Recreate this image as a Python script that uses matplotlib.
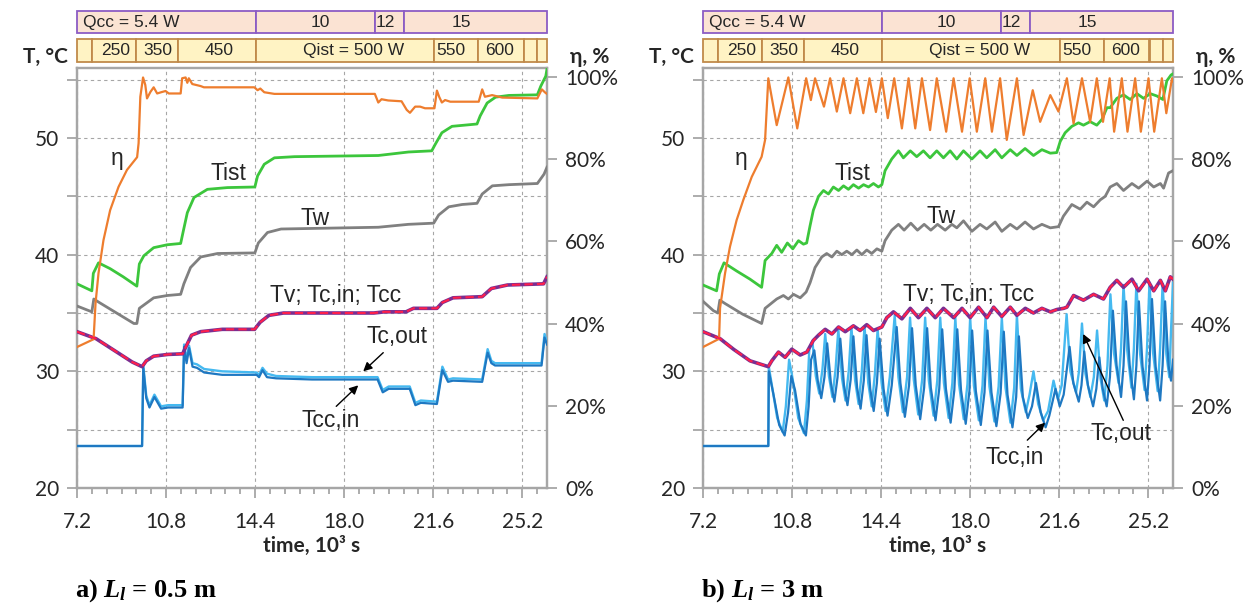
import numpy as np
import matplotlib
matplotlib.use("Agg")
import matplotlib.pyplot as plt
from matplotlib.patches import Rectangle

plt.rcParams["font.family"] = ["Lato", "DejaVu Sans"]
plt.rcParams["mathtext.fontset"] = "custom"
plt.rcParams["mathtext.it"] = "Liberation Serif:italic:bold"
plt.rcParams["mathtext.rm"] = "Liberation Serif:bold"

T0, T1 = 7.2, 26.2
time_ticks = [7.2, 10.8, 14.4, 18.0, 21.6, 25.2]

# heater / cooler power bands
qcc_edges = [7.2, 14.45, 19.25, 20.4, 26.2]
qcc_labels = ["Qcc = 5.4 W", "10", "12", "15"]
qcc_label_t = [9.4, 17.05, 19.68, 22.75]
qist_edges = [7.2, 7.8, 9.6, 11.3, 14.45, 21.65, 23.4, 25.25, 25.8, 26.2]
qist_labels = ["250", "350", "450", "Qist = 500 W", "550", "600"]
qist_label_t = [8.75, 10.46, 12.94, 18.37, 22.3, 24.27]

# ---- a) L_l = 0.5 m ----
eta_a = [(7.2, 34.3), (7.87, 36.2), (7.95, 45.0), (8.07, 52.3), (8.27, 60.3), (8.54, 67.6),
         (8.88, 73.3), (9.22, 77.4), (9.63, 80.5), (9.69, 83.9), (9.76, 95.2), (9.87, 99.9),
         (9.96, 98.1), (10.03, 94.8), (10.17, 96.4), (10.3, 97.5), (10.44, 96.0), (10.6, 96.3),
         (10.78, 96.6), (10.91, 96.0), (11.39, 96.0), (11.45, 99.7), (11.59, 99.9), (11.66, 98.6),
         (11.72, 99.7), (11.86, 98.3), (12.2, 97.8), (12.33, 97.5), (14.37, 97.5), (14.5, 96.8),
         (14.61, 97.2), (14.77, 96.3), (15.18, 95.9), (19.24, 95.9), (19.38, 93.8), (19.51, 94.6),
         (19.78, 94.3), (20.32, 94.1), (20.53, 92.0), (20.66, 91.3), (20.87, 92.8), (21.07, 92.8),
         (21.27, 92.4), (21.65, 92.4), (21.75, 96.7), (21.84, 95.2), (21.95, 93.8), (22.08, 94.4),
         (22.29, 94.0), (23.44, 94.0), (23.58, 97.0), (23.69, 95.2), (23.98, 95.6), (24.39, 95.0),
         (25.81, 94.8), (25.99, 97.0), (26.13, 96.2), (26.2, 95.9)]
tist_a = [(7.2, 37.5), (7.8, 36.9), (7.86, 38.4), (8.07, 39.3), (8.54, 38.8), (9.07, 38.1),
          (9.62, 37.3), (9.72, 39.2), (9.9, 39.9), (10.3, 40.6), (10.85, 40.85), (11.39, 40.96),
          (11.5, 42.05), (11.66, 43.6), (11.93, 44.9), (12.47, 45.6), (13.28, 45.75), (14.39, 45.8),
          (14.5, 46.75), (14.77, 47.75), (15.18, 48.3), (15.99, 48.4), (19.38, 48.5), (20.6, 48.8),
          (21.54, 48.9), (21.68, 49.45), (21.95, 50.45), (22.36, 51.0), (23.37, 51.2), (23.5, 51.9),
          (23.78, 53.0), (24.12, 53.5), (24.66, 53.65), (25.81, 53.7), (25.95, 54.45), (26.15, 55.3),
          (26.2, 55.9)]
tw_a = [(7.2, 35.6), (7.8, 35.1), (7.88, 36.2), (8.1, 35.9), (8.8, 35.0), (9.5, 34.1), (9.62, 34.1),
        (9.72, 35.4), (10.3, 36.3), (10.85, 36.5), (11.39, 36.6), (11.52, 37.5), (11.79, 38.9),
        (12.2, 39.8), (12.88, 40.1), (14.39, 40.15), (14.53, 41.0), (14.9, 41.9), (15.45, 42.2),
        (19.38, 42.35), (20.6, 42.6), (21.62, 42.7), (21.82, 43.4), (22.23, 44.1), (22.77, 44.3),
        (23.37, 44.4), (23.58, 45.2), (23.99, 45.9), (24.66, 46.0), (25.81, 46.1), (26.08, 46.9),
        (26.2, 47.5)]
tv_a = [(7.2, 33.4), (7.97, 32.8), (8.7, 31.8), (9.43, 30.8), (9.83, 30.4), (10.0, 30.9), (10.3, 31.3),
        (10.88, 31.45), (11.47, 31.5), (11.6, 32.1), (11.83, 33.1), (12.2, 33.4), (13.07, 33.6),
        (14.38, 33.6), (14.6, 34.2), (14.96, 34.8), (15.55, 35.0), (19.2, 35.0), (19.63, 35.1),
        (20.5, 35.1), (20.8, 35.4), (21.75, 35.4), (21.97, 35.9), (22.4, 36.3), (23.58, 36.4),
        (23.95, 37.1), (24.6, 37.4), (26.06, 37.5), (26.2, 38.1)]
tcc_in_a = [(7.2, 23.6), (9.83, 23.6), (9.88, 30.3), (10.0, 27.7), (10.13, 26.9), (10.33, 27.8),
            (10.6, 26.8), (10.88, 26.9), (11.47, 26.9), (11.53, 32.1), (11.63, 30.7), (11.73, 32.0),
            (11.87, 30.4), (12.05, 30.3), (12.34, 29.9), (13.07, 29.7), (14.46, 29.7), (14.56, 29.5),
            (14.7, 30.1), (14.88, 29.5), (15.25, 29.4), (16.7, 29.3), (19.35, 29.3), (19.56, 28.2),
            (19.8, 28.5), (20.65, 28.5), (20.88, 27.1), (21.1, 27.3), (21.75, 27.2), (21.97, 30.1),
            (22.2, 29.1), (22.4, 29.2), (23.58, 29.1), (23.8, 31.6), (23.95, 30.7), (24.1, 30.5),
            (25.98, 30.5), (26.1, 32.9), (26.2, 32.3)]
tc_out_a = [(7.2, 23.6), (9.83, 23.6), (9.88, 30.5), (10.0, 27.9), (10.13, 27.1), (10.33, 28.0),
            (10.6, 27.0), (10.88, 27.1), (11.47, 27.1), (11.53, 32.3), (11.63, 31.0), (11.73, 32.2),
            (11.87, 30.7), (12.05, 30.6), (12.34, 30.2), (13.07, 30.0), (14.46, 29.9), (14.56, 29.7),
            (14.7, 30.3), (14.88, 29.8), (15.25, 29.6), (16.7, 29.5), (19.35, 29.5), (19.56, 28.4),
            (19.8, 28.7), (20.65, 28.7), (20.88, 27.3), (21.1, 27.5), (21.75, 27.4), (21.97, 30.4),
            (22.2, 29.3), (22.4, 29.4), (23.58, 29.3), (23.8, 31.9), (23.95, 30.9), (24.1, 30.7),
            (25.98, 30.7), (26.1, 33.2), (26.2, 32.5)]

# ---- b) L_l = 3 m ----
eta_b = [(7.2, 34.3), (7.85, 36.3), (7.89, 43.8), (8.09, 52.2), (8.29, 58.7), (8.56, 65.2),
         (8.83, 70.1), (9.17, 75.7), (9.57, 80.6), (9.71, 84.7), (9.84, 99.7), (10.18, 88.3),
         (10.65, 99.9), (11.01, 87.5), (11.37, 99.7), (11.56, 94.4), (11.73, 99.7), (12.09, 92.8),
         (12.34, 99.7), (12.61, 91.6), (12.88, 99.7), (13.15, 91.2), (13.42, 99.7), (13.68, 91.2),
         (13.93, 99.7), (14.19, 91.5), (14.43, 99.7), (14.67, 90.0), (14.93, 99.7), (15.24, 87.5),
         (15.51, 99.7), (15.78, 87.5), (16.05, 99.7), (16.38, 87.1), (16.65, 99.7), (17.03, 86.7),
         (17.33, 99.7), (17.67, 86.7), (17.98, 99.7), (18.27, 86.7), (18.61, 99.7), (18.88, 86.7),
         (19.21, 99.7), (19.48, 84.7), (19.89, 99.7), (20.16, 85.9), (20.53, 96.8), (20.83, 89.1),
         (21.24, 95.6), (21.57, 91.6), (21.91, 99.7), (22.18, 88.7), (22.52, 99.7), (22.85, 89.1),
         (23.12, 99.7), (23.37, 89.1), (23.64, 99.7), (23.82, 86.7), (24.13, 99.7), (24.36, 86.7),
         (24.67, 99.7), (24.9, 86.7), (25.21, 99.7), (25.44, 86.7), (25.75, 99.7), (25.93, 91.2),
         (26.16, 99.7), (26.2, 99.0)]
tist_b = [(7.2, 37.4), (7.75, 36.9), (7.86, 38.35), (8.05, 39.3), (8.56, 38.6), (9.1, 37.9),
          (9.57, 37.2), (9.71, 39.5), (9.98, 40.1), (10.18, 40.8), (10.38, 40.2), (10.61, 41.0),
          (10.83, 40.5), (11.06, 41.2), (11.26, 40.9), (11.39, 41.0), (11.53, 42.5), (11.66, 43.8),
          (11.87, 45.0), (12.07, 45.5), (12.27, 45.2), (12.47, 45.8), (12.68, 45.5), (12.88, 45.9),
          (13.08, 45.6), (13.28, 46.0), (13.49, 45.7), (13.69, 46.0), (13.89, 45.8), (14.09, 46.1),
          (14.29, 45.8), (14.43, 46.0), (14.56, 47.2), (14.83, 48.2), (15.1, 48.9), (15.3, 48.3),
          (15.58, 48.9), (15.84, 48.4), (16.11, 48.9), (16.38, 48.3), (16.65, 48.9), (16.92, 48.3),
          (17.19, 48.9), (17.46, 48.2), (17.73, 48.9), (18.07, 48.2), (18.4, 48.9), (18.67, 48.3),
          (19.01, 49.0), (19.28, 48.3), (19.62, 49.0), (19.89, 48.5), (20.22, 49.1), (20.56, 48.5),
          (20.9, 49.0), (21.24, 48.7), (21.5, 48.75), (21.64, 49.7), (21.84, 50.45), (22.11, 51.0),
          (22.38, 51.3), (22.58, 51.1), (22.85, 51.4), (23.12, 51.1), (23.33, 51.6), (23.53, 52.6),
          (23.66, 52.6), (23.93, 53.4), (24.2, 53.7), (24.47, 53.3), (24.74, 53.8), (25.01, 53.4),
          (25.28, 53.8), (25.55, 53.6), (25.79, 53.3), (25.95, 54.9), (26.12, 55.4), (26.2, 55.5)]
tw_b = [(7.2, 36.0), (7.62, 35.2), (7.8, 35.0), (7.88, 36.1), (8.1, 35.8), (8.8, 34.9), (9.57, 34.1),
        (9.71, 35.4), (10.18, 36.2), (10.45, 36.5), (10.65, 36.2), (10.86, 36.6), (11.13, 36.3),
        (11.37, 36.8), (11.53, 37.6), (11.73, 38.9), (12.0, 39.8), (12.2, 40.1), (12.41, 39.8),
        (12.61, 40.3), (12.81, 40.0), (13.01, 40.3), (13.22, 40.0), (13.42, 40.4), (13.62, 40.0),
        (13.82, 40.4), (14.02, 40.1), (14.23, 40.5), (14.43, 40.3), (14.56, 41.2), (14.83, 42.1),
        (15.1, 42.6), (15.33, 42.1), (15.6, 42.7), (15.87, 42.1), (16.14, 42.6), (16.41, 42.1),
        (16.68, 42.6), (16.99, 42.1), (17.26, 42.6), (17.46, 42.3), (17.73, 42.9), (18.07, 42.0),
        (18.4, 42.6), (18.67, 42.2), (19.01, 42.8), (19.28, 42.0), (19.62, 42.6), (19.89, 42.2),
        (20.22, 42.8), (20.56, 42.2), (20.9, 42.6), (21.24, 42.3), (21.57, 42.4), (21.77, 43.3),
        (22.11, 44.3), (22.45, 43.9), (22.72, 44.5), (22.99, 44.1), (23.26, 44.7), (23.46, 45.0),
        (23.66, 45.8), (23.93, 46.1), (24.2, 45.5), (24.54, 46.1), (24.81, 45.7), (25.15, 46.3),
        (25.42, 45.8), (25.69, 46.1), (25.82, 45.7), (26.02, 47.0), (26.2, 47.2)]
tv_b = [(7.2, 33.4), (7.89, 32.8), (8.43, 31.9), (9.1, 30.9), (9.84, 30.4), (9.98, 30.9), (10.25, 31.65),
        (10.52, 31.2), (10.79, 31.9), (11.13, 31.4), (11.4, 31.65), (11.66, 32.65), (11.87, 33.1),
        (12.14, 33.6), (12.41, 33.2), (12.68, 33.8), (12.95, 33.4), (13.28, 33.9), (13.55, 33.5),
        (13.82, 34.0), (14.09, 33.5), (14.43, 33.8), (14.63, 34.6), (14.9, 35.1), (15.24, 34.5),
        (15.58, 35.4), (15.91, 34.6), (16.25, 35.4), (16.59, 34.6), (16.92, 35.4), (17.33, 34.6),
        (17.67, 35.4), (18.0, 34.6), (18.34, 35.5), (18.68, 34.6), (18.95, 35.5), (19.28, 34.7),
        (19.62, 35.5), (19.89, 34.8), (20.23, 35.4), (20.56, 35.0), (20.9, 35.4), (21.24, 35.1),
        (21.51, 35.3), (21.78, 35.4), (21.91, 35.5), (22.18, 36.5), (22.58, 36.1), (22.99, 36.6),
        (23.39, 36.2), (23.66, 37.2), (23.93, 37.8), (24.2, 37.2), (24.54, 37.9), (24.81, 36.9),
        (25.15, 37.9), (25.42, 36.9), (25.69, 37.8), (25.89, 36.9), (26.09, 38.1), (26.2, 37.9)]
tc_out_b = [(7.2, 23.6), (9.84, 23.6), (9.86, 30.4), (10.0, 28.6), (10.2, 26.0), (10.42, 24.8),
            (10.55, 27.0), (10.68, 31.0), (10.82, 29.4), (11.05, 26.0), (11.28, 24.7), (11.4, 27.5),
            (11.5, 32.0), (11.62, 32.6), (11.76, 29.6), (11.9, 28.1), (12.03, 30.2), (12.14, 33.2),
            (12.29, 29.6), (12.43, 27.8), (12.56, 30.2), (12.67, 33.6), (12.82, 29.4), (12.96, 27.5),
            (13.09, 30.0), (13.2, 33.8), (13.35, 29.2), (13.49, 27.2), (13.62, 30.0), (13.73, 33.9),
            (13.88, 29.0), (14.02, 27.0), (14.15, 29.8), (14.26, 33.6), (14.42, 29.0), (14.58, 26.6),
            (14.75, 29.5), (14.95, 34.8), (15.1, 29.5), (15.28, 26.5), (15.45, 29.5), (15.57, 34.6),
            (15.72, 29.3), (15.9, 26.3), (16.06, 29.3), (16.18, 34.6), (16.33, 29.2), (16.52, 26.2),
            (16.67, 29.2), (16.79, 34.6), (16.94, 29.0), (17.13, 26.0), (17.28, 29.0), (17.4, 34.6),
            (17.55, 28.9), (17.74, 25.9), (17.89, 28.9), (18.0, 34.6), (18.15, 28.8), (18.35, 25.8),
            (18.5, 28.8), (18.62, 34.6), (18.78, 28.7), (18.98, 25.7), (19.15, 28.7), (19.28, 34.6),
            (19.43, 28.6), (19.63, 25.6), (19.78, 28.6), (19.89, 34.8), (20.05, 28.5), (20.25, 26.5),
            (20.4, 28.0), (20.56, 30.0), (20.75, 27.2), (20.95, 25.8), (21.15, 26.6), (21.37, 29.2),
            (21.55, 27.6), (21.7, 28.8), (21.9, 34.9), (22.05, 30.0), (22.28, 28.2), (22.4, 30.0),
            (22.52, 34.1), (22.66, 29.8), (22.86, 27.8), (23.0, 29.5), (23.13, 33.5), (23.27, 29.4),
            (23.42, 27.5), (23.55, 30.5), (23.67, 36.6), (23.82, 31.5), (24.0, 29.0), (24.1, 32.0),
            (24.2, 37.4), (24.35, 31.8), (24.52, 28.6), (24.62, 32.0), (24.72, 37.5), (24.87, 31.5),
            (25.05, 28.4), (25.15, 32.0), (25.25, 37.6), (25.4, 31.5), (25.58, 28.3), (25.68, 32.0),
            (25.78, 37.5), (25.93, 31.5), (26.05, 29.5), (26.12, 33.5), (26.2, 37.6)]
tcc_in_b = [(7.2, 23.6), (9.84, 23.6), (9.86, 30.0), (10.05, 28.0), (10.28, 25.4), (10.5, 24.5),
            (10.64, 26.5), (10.77, 29.6), (10.92, 28.4), (11.14, 25.5), (11.36, 24.5), (11.47, 27.0),
            (11.57, 31.0), (11.7, 31.8), (11.84, 29.2), (11.98, 27.7), (12.11, 29.5), (12.22, 32.4),
            (12.37, 29.0), (12.51, 27.4), (12.64, 29.5), (12.75, 32.8), (12.9, 28.8), (13.04, 27.1),
            (13.17, 29.3), (13.28, 33.0), (13.43, 28.6), (13.57, 26.8), (13.7, 29.2), (13.81, 33.1),
            (13.96, 28.5), (14.1, 26.6), (14.23, 29.0), (14.34, 32.8), (14.5, 28.5), (14.66, 26.2),
            (14.83, 28.8), (15.03, 33.8), (15.18, 29.0), (15.36, 26.1), (15.53, 28.8), (15.65, 33.7),
            (15.8, 28.8), (15.98, 25.9), (16.14, 28.6), (16.26, 33.7), (16.41, 28.6), (16.6, 25.8),
            (16.75, 28.5), (16.87, 33.6), (17.02, 28.5), (17.21, 25.6), (17.36, 28.4), (17.48, 33.6),
            (17.63, 28.4), (17.82, 25.5), (17.97, 28.3), (18.08, 33.5), (18.23, 28.3), (18.43, 25.4),
            (18.58, 28.2), (18.7, 33.5), (18.86, 28.2), (19.06, 25.3), (19.23, 28.1), (19.36, 33.4),
            (19.51, 28.0), (19.71, 25.2), (19.86, 27.8), (19.97, 33.0), (20.13, 27.8), (20.33, 26.0),
            (20.5, 27.0), (20.66, 29.0), (20.85, 26.5), (21.05, 25.2), (21.2, 26.2), (21.45, 28.5),
            (21.62, 27.0), (21.78, 28.0), (22.02, 32.1), (22.17, 29.0), (22.39, 27.4), (22.5, 28.8),
            (22.61, 31.7), (22.76, 28.8), (22.97, 27.0), (23.1, 28.5), (23.22, 31.2), (23.36, 28.5),
            (23.52, 27.0), (23.65, 29.5), (23.77, 35.2), (23.92, 30.5), (24.1, 27.8), (24.2, 30.5),
            (24.3, 36.0), (24.45, 30.5), (24.62, 27.6), (24.72, 30.5), (24.82, 36.0), (24.97, 30.4),
            (25.15, 27.5), (25.25, 30.5), (25.35, 36.2), (25.5, 30.4), (25.68, 27.5), (25.78, 30.5),
            (25.88, 36.0), (26.02, 30.5), (26.12, 29.2), (26.2, 31.0)]

C_ETA = "#ee7d2e"
C_IST = "#3cc63c"
C_W = "#808080"
C_TV = "#ff1f4b"
C_TCIN = "#7a2e91"
C_OUT = "#45b9f0"
C_IN = "#1e78c2"
C_FRAME = "#a6a6a6"
C_TXT = "#262626"

W, H = 1260, 606
fig = plt.figure(figsize=(W / 100, H / 100), dpi=100)


def fx(px):
    return px / W


def fy(py):
    return 1 - py / H


def xy(series):
    arr = np.array(series)
    return arr[:, 0], arr[:, 1]


def draw_header(left):
    width = 470 / W
    for edges, labels, lt, (top, bot), face, edge in [
        (qcc_edges, qcc_labels, qcc_label_t, (11, 33), "#fbe3d3", "#8c5cc4"),
        (qist_edges, qist_labels, qist_label_t, (39, 62), "#fff3c4", "#c08a4a"),
    ]:
        hx = fig.add_axes([left, fy(bot), width, (bot - top) / H])
        hx.set_xlim(T0, T1)
        hx.set_ylim(0, 1)
        hx.axis("off")
        for a, b in zip(edges[:-1], edges[1:]):
            hx.add_patch(Rectangle((a, 0), b - a, 1, facecolor=face, edgecolor=edge,
                                   lw=1.3, clip_on=False))
        for t, s in zip(lt, labels):
            hx.text(t, 0.48, s, ha="center", va="center", fontsize=12.5,
                    family="Liberation Sans", color=C_TXT)


def draw_panel(left, eta, tist, tw, tv, tc_out, tcc_in, notes, arrows):
    ax = fig.add_axes([left, fy(488), 470 / W, 420 / H])
    ax2 = ax.twinx()
    ax.set_zorder(ax2.get_zorder() + 1)
    ax.patch.set_visible(False)

    ax.set_xlim(T0, T1)
    ax.set_ylim(20, 56)
    ax2.set_ylim(0, 102.2)

    ax.set_xticks(time_ticks, labels=[f"{t:.1f}" for t in time_ticks])
    ax.set_xticks(np.arange(7.2, 26.3, 0.6), minor=True)
    ax.set_yticks(range(20, 60, 5), labels=["20", "", "30", "", "40", "", "50", ""])
    ax2.set_yticks(range(0, 101, 20), labels=[f"{v}%" for v in range(0, 101, 20)])

    ax.grid(True, which="major", color=C_FRAME, lw=0.8, ls=(0, (3, 3)))
    for a in (ax, ax2):
        for s in a.spines.values():
            s.set_color(C_FRAME)
            s.set_linewidth(1.6)
        a.tick_params(which="both", color=C_FRAME, width=1.3, labelsize=15,
                      labelcolor=C_TXT)
    ax.tick_params(axis="x", which="major", length=7, pad=10)
    ax.tick_params(axis="x", which="minor", length=4)
    ax.tick_params(axis="y", length=7, pad=6)
    ax2.tick_params(axis="y", length=7, pad=6)

    t, v = xy(tc_out)
    ax.plot(t, v, color=C_OUT, lw=1.7, zorder=3)
    t, v = xy(tcc_in)
    ax.plot(t, v, color=C_IN, lw=1.6, zorder=3)
    t, v = xy(tv)
    ax.plot(t, v, color=C_TCIN, lw=2.6, zorder=4)
    ax.plot(t, v, color=C_TV, lw=1.5, ls=(0, (4, 2)), zorder=5)
    t, v = xy(tw)
    ax.plot(t, v, color=C_W, lw=2.0, zorder=4)
    t, v = xy(tist)
    ax.plot(t, v, color=C_IST, lw=2.0, zorder=4)
    t, v = xy(eta)
    ax.plot(t, 20 + v * 36 / 102.2, color=C_ETA, lw=1.6, zorder=4)

    for s, (tx, ty) in notes.items():
        ax.text(tx, ty, s, ha="center", va="center", fontsize=16.5,
                family="Liberation Sans", color=C_TXT, zorder=6)
    for tail, tip in arrows:
        ax.annotate("", xy=tip, xytext=tail, zorder=6,
                    arrowprops=dict(arrowstyle="-|>", color="black", lw=1.0,
                                    mutation_scale=13, shrinkA=0, shrinkB=0))
    return ax


draw_header(fx(77))
draw_header(fx(703))

draw_panel(fx(77), eta_a, tist_a, tw_a, tv_a, tc_out_a, tcc_in_a,
           {"η": (8.82, 48.2), "Tist": (13.31, 47.0), "Tw": (16.83, 43.1),
            "Tv; Tc,in; Tcc": (17.64, 36.5), "Tc,out": (20.14, 33.0), "Tcc,in": (17.47, 25.8)},
           [((19.58, 31.6), (18.77, 30.0)), ((17.68, 27.0), (18.57, 28.8))])
draw_panel(fx(703), eta_b, tist_b, tw_b, tv_b, tc_out_b, tcc_in_b,
           {"η": (8.74, 48.2), "Tist": (13.23, 47.0), "Tw": (16.83, 43.3),
            "Tv; Tc,in; Tcc": (17.92, 36.6), "Tc,out": (24.11, 24.7), "Tcc,in": (19.82, 22.6)},
           [((24.19, 25.8), (22.57, 33.2)), ((20.31, 24.1), (21.03, 25.6))])

for x0, cap in [(0, r"a) $L_l$ = 0.5 m"), (626, r"b) $L_l$ = 3 m")]:
    fig.text(fx(45 + x0), fy(57), "T, °C", ha="center", va="center", fontsize=15,
             fontweight="bold", color=C_TXT)
    fig.text(fx(590 + x0), fy(57), "η, %", ha="center", va="center", fontsize=15,
             fontweight="bold", color=C_TXT)
    fig.text(fx(312 + x0), fy(546), "time, 10³ s", ha="center", va="center",
             fontsize=15, fontweight="bold", color=C_TXT)
    fig.text(fx(75 + x0), fy(591), cap, ha="left", va="center", fontsize=19,
             family="Liberation Serif", fontweight="bold", color="black")

fig.savefig("out.png", dpi=100)
